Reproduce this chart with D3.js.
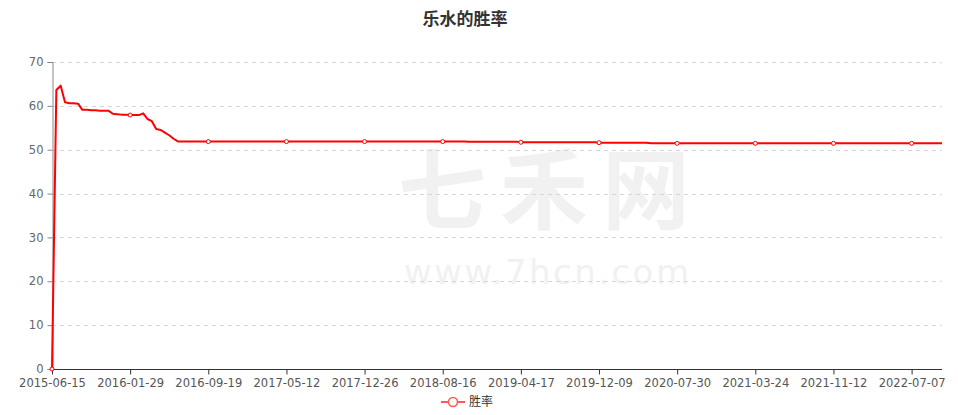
<!DOCTYPE html>
<html>
<head>
<meta charset="utf-8">
<script src="https://cdn.jsdelivr.net/npm/d3@7/dist/d3.min.js"></script>
<style>
  html, body { margin: 0; padding: 0; background: #fff; }
  svg { display: block; }
</style>
</head>
<body>
<svg id="chart" width="958" height="415"></svg>
<script>
// ---------------- data ----------------
const title = "乐水的胜率";
const seriesName = "胜率";
const tickDates = ["2015-06-15","2016-01-29","2016-09-19","2017-05-12","2017-12-26","2018-08-16",
                   "2019-04-17","2019-12-09","2020-07-30","2021-03-24","2021-11-12","2022-07-07"];
const pointsPerTick = 18;
const yTicks = [0, 10, 20, 30, 40, 50, 60, 70];
const winRate = [
  0, 63.6, 64.6, 60.8, 60.6, 60.6, 60.5, 59.1, 59.1, 59.0, 59.0, 58.9, 58.9, 58.9, 58.2, 58.1, 58.0, 58.0,
  57.9, 57.9, 57.9, 58.3, 57.0, 56.5, 54.7, 54.5, 53.9, 53.3, 52.5, 51.9, 51.9, 51.9, 51.9, 51.9, 51.9, 51.9,
  51.85, 51.85, 51.85, 51.85, 51.85, 51.85, 51.85, 51.85, 51.85, 51.85, 51.85, 51.85, 51.85, 51.85, 51.85, 51.85, 51.85, 51.85,
  51.85, 51.85, 51.85, 51.85, 51.85, 51.85, 51.85, 51.85, 51.85, 51.85, 51.85, 51.85, 51.85, 51.85, 51.85, 51.85, 51.85, 51.85,
  51.85, 51.85, 51.85, 51.85, 51.85, 51.85, 51.85, 51.85, 51.85, 51.85, 51.85, 51.85, 51.85, 51.85, 51.85, 51.85, 51.85, 51.85,
  51.85, 51.85, 51.85, 51.85, 51.85, 51.85, 51.8, 51.8, 51.8, 51.8, 51.8, 51.8, 51.8, 51.8, 51.8, 51.8, 51.8, 51.8,
  51.7, 51.7, 51.7, 51.7, 51.7, 51.7, 51.7, 51.7, 51.7, 51.7, 51.7, 51.7, 51.7, 51.7, 51.7, 51.7, 51.7, 51.7,
  51.6, 51.6, 51.6, 51.6, 51.6, 51.6, 51.6, 51.6, 51.6, 51.6, 51.6, 51.6, 51.45, 51.45, 51.45, 51.45, 51.45, 51.45,
  51.45, 51.45, 51.45, 51.45, 51.45, 51.45, 51.45, 51.45, 51.45, 51.45, 51.45, 51.45, 51.45, 51.45, 51.45, 51.45, 51.45, 51.45,
  51.45, 51.45, 51.45, 51.45, 51.45, 51.45, 51.45, 51.45, 51.45, 51.45, 51.45, 51.45, 51.45, 51.45, 51.45, 51.45, 51.45, 51.45,
  51.45, 51.45, 51.45, 51.45, 51.45, 51.45, 51.45, 51.45, 51.45, 51.45, 51.45, 51.45, 51.45, 51.45, 51.45, 51.45, 51.45, 51.45,
  51.45, 51.45, 51.45, 51.45, 51.45, 51.45, 51.45, 51.45
];

// category labels: tick dates at every pointsPerTick-th category, intermediate days spread between them
const parseDate = d3.timeParse("%Y-%m-%d"), fmtDate = d3.timeFormat("%Y-%m-%d");
const categories = winRate.map((_, i) => {
  const k = Math.floor(i / pointsPerTick), r = i % pointsPerTick;
  if (r === 0 && k < tickDates.length) return tickDates[k];
  const a = parseDate(tickDates[Math.min(k, tickDates.length - 1)]);
  const b = k + 1 < tickDates.length ? parseDate(tickDates[k + 1]) : d3.timeDay.offset(a, 230);
  const off = Math.round((b - a) / 864e5 * r / pointsPerTick);
  return fmtDate(d3.timeDay.offset(a, off));
});

// ---------------- layout ----------------
const plotL = 52, plotR = 942, plotT = 62, plotB = 369;
const FONT = "'DejaVu Sans', 'Noto Sans CJK SC', sans-serif";
const CJK = "'Noto Sans CJK SC', sans-serif";
const red = "#ff0000";

const svg = d3.select("#chart");

// watermark
const wm = svg.append("g").attr("fill", "#f1f1f1").style("font-family", CJK);
wm.append("text").attr("x", 398).attr("y", 222).attr("font-size", 88).attr("font-weight", "bold")
  .attr("textLength", 292).attr("lengthAdjust", "spacing").text("七禾网");
wm.append("text").attr("x", 404).attr("y", 284).attr("font-size", 34).style("font-family", FONT)
  .attr("textLength", 285).attr("lengthAdjust", "spacing").text("www.7hcn.com");

const x = d3.scalePoint().domain(categories).range([plotL, plotR]);
const y = d3.scaleLinear().domain([0, 70]).range([plotB, plotT]);

// grid lines
svg.append("g").selectAll("line").data(yTicks.filter(d => d > 0)).join("line")
  .attr("x1", plotL).attr("x2", plotR)
  .attr("y1", d => Math.round(y(d)) + 0.5).attr("y2", d => Math.round(y(d)) + 0.5)
  .attr("stroke", "#d6d6d6").attr("stroke-dasharray", "4,4");

// y axis
const yAxis = d3.axisLeft(y).tickValues(yTicks).tickSize(5).tickPadding(4);
const gy = svg.append("g").attr("transform", `translate(${plotL + 0.5},0)`).call(yAxis);
gy.select(".domain").attr("stroke", "#888");
gy.selectAll(".tick line").attr("stroke", "#888");
gy.selectAll(".tick text").attr("fill", "#666").style("font-family", FONT).style("font-size", "11.5px");

// x axis
const tickCats = categories.filter((_, i) => i % pointsPerTick === 0);
const xAxis = d3.axisBottom(x).tickValues(tickCats).tickSize(5).tickPadding(4);
const gx = svg.append("g").attr("transform", `translate(0,${plotB + 0.5})`).call(xAxis);
gx.select(".domain").attr("stroke", "#333").attr("d", `M${plotL},0H${plotR}`);
gx.selectAll(".tick line").attr("stroke", "#333");
gx.selectAll(".tick text").attr("fill", "#555").style("font-family", FONT).style("font-size", "11.5px");

// line
const pts = categories.map((c, i) => ({ c, v: winRate[i], i }));
svg.append("path").datum(pts)
  .attr("fill", "none").attr("stroke", red).attr("stroke-width", 2).attr("stroke-linejoin", "round")
  .attr("d", d3.line().x(d => x(d.c)).y(d => y(d.v)));

// markers
svg.append("g").selectAll("circle").data(pts.filter(d => d.i % pointsPerTick === 0)).join("circle")
  .attr("cx", d => x(d.c)).attr("cy", d => y(d.v)).attr("r", 2)
  .attr("fill", "#fff").attr("stroke", red).attr("stroke-width", 1);

// title
svg.append("text").attr("x", 465).attr("y", 25).attr("text-anchor", "middle")
  .attr("font-size", 17).attr("font-weight", "bold").attr("fill", "#333")
  .style("font-family", CJK).text(title);

// legend
const lg = svg.append("g").attr("transform", "translate(441,402)");
lg.append("line").attr("x1", 0).attr("x2", 24).attr("y1", 0).attr("y2", 0).attr("stroke", "#ff5a5a").attr("stroke-width", 2);
lg.append("circle").attr("cx", 12).attr("cy", 0).attr("r", 4.5).attr("fill", "#fff").attr("stroke", "#ff5a5a").attr("stroke-width", 1.6);
lg.append("text").attr("x", 28).attr("y", 0).attr("dy", "0.35em").attr("font-size", 12).attr("fill", "#333")
  .style("font-family", CJK).text(seriesName);
</script>
</body>
</html>
